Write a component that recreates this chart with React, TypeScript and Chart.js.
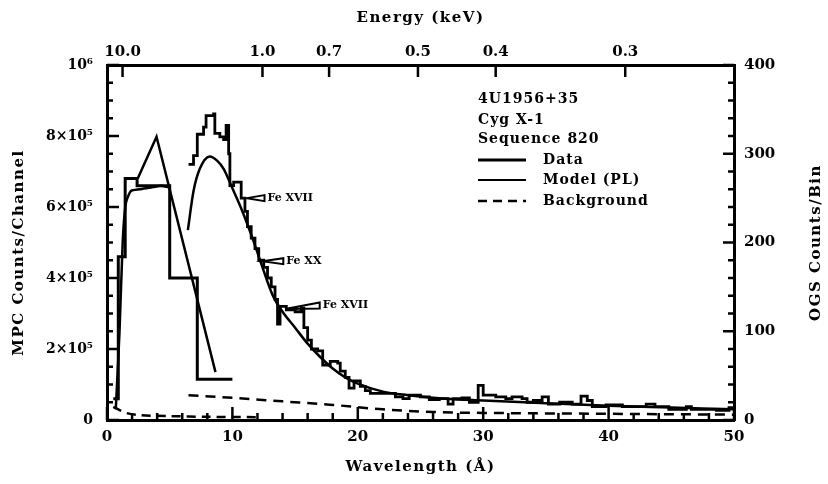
import React, { useEffect, useRef } from "react";
import { Chart, registerables } from "chart.js";

Chart.register(...registerables);

const HC = 12.398; // keV * Angstrom

// ---- MPC (left axis) ----
const mpcEdges = [0.5, 0.9, 1.45, 2.4, 5.0, 7.2, 10.0];
const mpcCounts = [60000, 460000, 680000, 660000, 400000, 115000, 115000];

const mpcModelX = [0.7, 1.0, 1.25, 1.5, 1.9, 2.6, 3.5, 4.3, 5.0];
const mpcModelY = [30000, 250000, 500000, 610000, 645000, 650000, 655000, 660000, 655000];

const mpcPeakX = [2.45, 3.95, 8.65];
const mpcPeakY = [680000, 798000, 135000];

const mpcBgX = [0.5, 1.0, 1.5, 2.5, 5.0, 8.0, 12.0];
const mpcBgY = [37000, 28000, 20000, 14000, 11000, 9000, 8000];

// ---- OGS (right axis) ----
const ogsEdges = [6.5, 6.9, 7.2, 7.7, 7.9, 8.5, 8.6, 9.0, 9.3, 9.5, 9.7, 9.8, 10.1, 10.7, 11.0, 11.2, 11.5, 11.8, 12.1, 12.5, 12.8, 13.1, 13.4, 13.6, 13.8, 14.3, 15.0, 15.5, 15.7, 16.0, 16.3, 16.8, 17.2, 17.8, 18.4, 18.6, 19.0, 19.3, 19.7, 20.2, 20.6, 21.0, 22.0, 23.0, 23.6, 24.1, 25.0, 25.7, 26.5, 27.2, 27.6, 28.3, 28.9, 29.6, 30.0, 31.0, 31.8, 32.3, 33.1, 33.5, 34.0, 34.7, 35.2, 36.1, 37.1, 37.8, 38.3, 38.7, 39.8, 41.1, 42.4, 43.0, 43.7, 44.8, 46.2, 46.6, 47.2, 48.6, 49.6, 50.0];
const ogsCounts = [288, 298, 322, 330, 343, 345, 323, 319, 316, 332, 300, 264, 268, 250, 235, 218, 205, 193, 180, 172, 160, 150, 136, 108, 128, 124, 122, 126, 104, 90, 80, 78, 62, 66, 64, 55, 48, 36, 44, 38, 33, 30, 30, 26, 24, 28, 26, 23, 24, 18, 24, 25, 20, 39, 28, 26, 24, 26, 24, 20, 22, 26, 18, 20, 18, 27, 22, 15, 17, 15, 15, 18, 15, 12, 15, 12, 12, 11, 14, 14];

const ogsModelX = [6.45, 6.9, 7.4, 8.2, 8.8, 9.3, 10.0, 10.8, 11.6, 12.4, 13.2, 14.0, 15.0, 16.0, 17.0, 18.0, 19.0, 20.0, 22, 24, 27, 30, 35, 40, 45, 50];
const ogsModelY = [214, 258, 283, 297, 292, 283, 261, 235, 205, 172, 141, 122, 104, 86, 71, 58, 48, 41, 32, 28, 24, 22, 19, 16, 14, 12];

const ogsBgX = [6.5, 10, 14, 18, 22, 26, 30, 40, 50];
const ogsBgY = [28, 25, 21, 17, 12, 9, 8, 7, 6];

// ---- axes ----
const energyTicks = [10.0, 1.0, 0.7, 0.5, 0.4, 0.3];
const energyLabels = ["10.0", "1.0", "0.7", "0.5", "0.4", "0.3"];
const mpcTickLabels = ["0", "2×10⁵", "4×10⁵", "6×10⁵", "8×10⁵", "10⁶"];

// ---- line annotations (OGS units) ----
const annText = ["Fe XVII", "Fe XX", "Fe XVII"];
const annTipX = [11.15, 12.4, 14.2];
const annTipY = [250, 179, 125];
const annTextX = [12.8, 14.3, 17.2];
const annTextY = [250, 179, 129];

const legendInfo = ["4U1956+35", "Cyg X-1", "Sequence 820"];
const legendItems = ["Data", "Model (PL)", "Background"];

const FONT = "'DejaVu Serif', serif";

const pts = (xs: number[], ys: number[]) => xs.map((x, i) => ({ x, y: ys[i] }));

const decorPlugin = {
  id: "decor",
  afterDraw(chart: any) {
    const ctx: CanvasRenderingContext2D = chart.ctx;
    const { left, right, top, bottom } = chart.chartArea;
    const sx = chart.scales.x;
    const st = chart.scales.xTop;
    const sy = chart.scales.y;
    const sy2 = chart.scales.y2;
    ctx.save();
    ctx.strokeStyle = "#000";
    ctx.lineWidth = 2.5;
    ctx.beginPath();
    for (let i = 0; i <= 25; i++) {
      const v = i * 2;
      const px = sx.getPixelForValue(v);
      const len = v % 10 === 0 ? 13 : 7;
      ctx.moveTo(px, bottom);
      ctx.lineTo(px, bottom - len);
    }
    st.ticks.forEach((t: any) => {
      const px = st.getPixelForValue(t.value);
      ctx.moveTo(px, top);
      ctx.lineTo(px, top + 12);
    });
    for (let i = 0; i <= 20; i++) {
      const py = sy.getPixelForValue(i * 50000);
      const len = i % 4 === 0 ? 12 : 6;
      ctx.moveTo(left, py);
      ctx.lineTo(left + len, py);
    }
    for (let i = 0; i <= 20; i++) {
      const py = sy2.getPixelForValue(i * 20);
      const len = i % 5 === 0 ? 11 : 6;
      ctx.moveTo(right, py);
      ctx.lineTo(right - len, py);
    }
    ctx.stroke();

    // annotations
    ctx.fillStyle = "#000";
    ctx.lineWidth = 2;
    ctx.font = `bold 11px ${FONT}`;
    ctx.textBaseline = "middle";
    ctx.textAlign = "left";
    for (let i = 0; i < annText.length; i++) {
      const tx = sx.getPixelForValue(annTipX[i]);
      const ty = sy2.getPixelForValue(annTipY[i]);
      const bx = sx.getPixelForValue(annTextX[i]);
      const by = sy2.getPixelForValue(annTextY[i]);
      ctx.beginPath();
      ctx.moveTo(tx, ty);
      ctx.lineTo(bx - 3, by - 3);
      ctx.lineTo(bx - 3, by + 3);
      ctx.closePath();
      ctx.stroke();
      ctx.fillText(annText[i], bx, by);
    }

    // titles
    (ctx as any).letterSpacing = "1.5px";
    ctx.font = `bold 15px ${FONT}`;
    ctx.textAlign = "center";
    ctx.textBaseline = "middle";
    const cx = (left + right) / 2;
    ctx.fillText("Energy (keV)", cx, 18);
    ctx.fillText("Wavelength (Å)", cx, 467);
    ctx.save();
    ctx.translate(19, (top + bottom) / 2 + 10);
    ctx.rotate(-Math.PI / 2);
    ctx.fillText("MPC Counts/Channel", 0, 0);
    ctx.restore();
    ctx.save();
    ctx.translate(816, (top + bottom) / 2);
    ctx.rotate(-Math.PI / 2);
    ctx.fillText("OGS Counts/Bin", 0, 0);
    ctx.restore();

    // legend block
    (ctx as any).letterSpacing = "1px";
    ctx.font = `bold 14px ${FONT}`;
    ctx.textAlign = "left";
    const lx = 478;
    const rows = [99, 120, 139];
    legendInfo.forEach((t, i) => ctx.fillText(t, lx, rows[i]));
    const itemRows = [160, 180, 201];
    const widths = [3, 2.2, 2.5];
    legendItems.forEach((t, i) => {
      ctx.beginPath();
      ctx.lineWidth = widths[i];
      ctx.setLineDash(i === 2 ? [9, 6] : []);
      ctx.moveTo(lx, itemRows[i]);
      ctx.lineTo(lx + 48, itemRows[i]);
      ctx.stroke();
      ctx.setLineDash([]);
      ctx.fillText(t, lx + 65, itemRows[i]);
    });
    ctx.restore();
  },
};

export default function App() {
  const ref = useRef<HTMLCanvasElement>(null);
  useEffect(() => {
    if (!ref.current) return;
    const tickFont = { family: FONT, weight: "bold" as const, size: 15 };
    const chart = new Chart(ref.current, {
      type: "line",
      data: {
        datasets: [
          {
            label: "MPC Data",
            data: pts([...mpcEdges], [...mpcCounts]),
            yAxisID: "y",
            stepped: true,
            borderColor: "#000",
            borderWidth: 3,
            pointRadius: 0,
          },
          {
            label: "MPC Model",
            data: pts(mpcModelX, mpcModelY),
            yAxisID: "y",
            borderColor: "#000",
            borderWidth: 2.5,
            pointRadius: 0,
            tension: 0.2,
          },
          {
            label: "MPC Model peak",
            data: pts(mpcPeakX, mpcPeakY),
            yAxisID: "y",
            borderColor: "#000",
            borderWidth: 2.5,
            pointRadius: 0,
          },
          {
            label: "MPC Background",
            data: pts(mpcBgX, mpcBgY),
            yAxisID: "y",
            borderColor: "#000",
            borderWidth: 2.5,
            borderDash: [9, 6],
            pointRadius: 0,
            tension: 0.3,
          },
          {
            label: "OGS Data",
            data: pts(ogsEdges, ogsCounts),
            yAxisID: "y2",
            stepped: true,
            borderColor: "#000",
            borderWidth: 2.8,
            pointRadius: 0,
          },
          {
            label: "OGS Model",
            data: pts(ogsModelX, ogsModelY),
            yAxisID: "y2",
            borderColor: "#000",
            borderWidth: 2.5,
            pointRadius: 0,
            cubicInterpolationMode: "monotone",
          },
          {
            label: "OGS Background",
            data: pts(ogsBgX, ogsBgY),
            yAxisID: "y2",
            borderColor: "#000",
            borderWidth: 2.5,
            borderDash: [10, 7],
            pointRadius: 0,
            cubicInterpolationMode: "monotone",
          },
        ],
      },
      options: {
        responsive: false,
        animation: false,
        devicePixelRatio: 1,
        layout: { padding: 0 },
        plugins: { legend: { display: false }, tooltip: { enabled: false } },
        scales: {
          x: {
            type: "linear",
            position: "bottom",
            min: 0,
            max: 50,
            afterFit: (s: any) => { s.height = 64; },
            ticks: { stepSize: 10, color: "#000", font: tickFont, padding: 8, maxRotation: 0 },
            grid: { display: true, drawOnChartArea: false, drawTicks: false },
            border: { display: true, color: "#000", width: 3 },
          },
          xTop: {
            type: "linear",
            position: "top",
            min: 0,
            max: 50,
            afterFit: (s: any) => { s.height = 65; },
            afterBuildTicks: (s: any) => {
              s.ticks = energyTicks.map((e) => ({ value: HC / e }));
            },
            ticks: {
              autoSkip: false,
              color: "#000",
              font: tickFont,
              padding: 4,
              maxRotation: 0,
              callback: (_v: any, i: number) => energyLabels[i],
            },
            grid: { display: true, drawOnChartArea: false, drawTicks: false },
            border: { display: true, color: "#000", width: 3 },
          },
          y: {
            type: "linear",
            position: "left",
            min: 0,
            max: 1000000,
            afterFit: (s: any) => { s.width = 107; },
            ticks: {
              stepSize: 200000,
              color: "#000",
              font: { ...tickFont, size: 14 },
              padding: 14,
              callback: (_v: any, i: number) => mpcTickLabels[i],
            },
            grid: { display: true, drawOnChartArea: false, drawTicks: false },
            border: { display: true, color: "#000", width: 3 },
          },
          y2: {
            type: "linear",
            position: "right",
            min: 0,
            max: 400,
            afterFit: (s: any) => { s.width = 94; },
            ticks: { stepSize: 100, color: "#000", font: tickFont, padding: 10 },
            grid: { display: true, drawOnChartArea: false, drawTicks: false },
            border: { display: true, color: "#000", width: 3 },
          },
        },
      },
      plugins: [decorPlugin],
    });
    return () => chart.destroy();
  }, []);
  return (
    <div style={{ position: "fixed", left: 0, top: 0, width: 828, height: 484, background: "#fff" }}>
      <canvas ref={ref} width={828} height={484} style={{ display: "block", width: 828, height: 484 }} />
    </div>
  );
}
